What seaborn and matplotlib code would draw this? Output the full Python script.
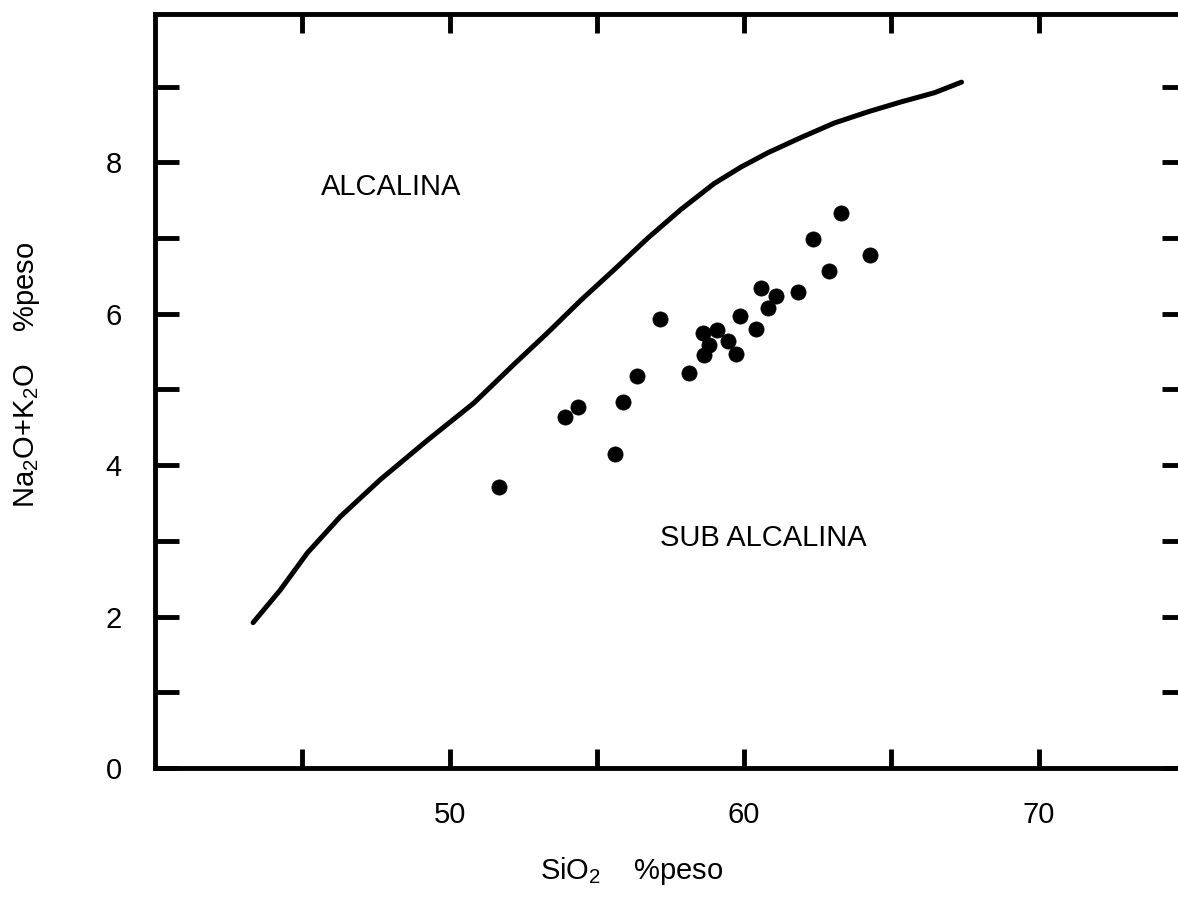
import numpy as np
import pandas as pd
import seaborn as sns
import matplotlib.pyplot as plt

# boundary alkaline / sub-alkaline
curve_sio2 = [43.33, 44.25, 45.17, 46.29, 47.65, 49.25, 50.82, 52.18, 53.33, 54.46,
              55.58, 56.73, 57.86, 58.98, 59.90, 60.82, 61.94, 63.06, 64.22, 65.34,
              66.46, 67.38]
curve_alk = [1.92, 2.35, 2.84, 3.32, 3.81, 4.33, 4.82, 5.33, 5.75, 6.18,
             6.58, 7.00, 7.38, 7.72, 7.94, 8.13, 8.33, 8.52, 8.67, 8.80,
             8.92, 9.06]

# samples
sio2 = [63.30, 62.35, 64.26, 62.87, 60.56, 61.07, 61.82, 60.82, 57.14, 59.86,
        60.41, 58.61, 59.08, 58.81, 59.46, 58.64, 59.73, 58.13, 56.36, 55.88,
        54.35, 53.91, 55.61, 51.67]
alk = [7.33, 6.99, 6.77, 6.57, 6.34, 6.24, 6.29, 6.08, 5.93, 5.97,
       5.80, 5.74, 5.79, 5.59, 5.64, 5.46, 5.47, 5.22, 5.18, 4.84,
       4.77, 4.64, 4.15, 3.71]

x_ticks = [45, 50, 55, 60, 65, 70]
x_labels = ["", "50", "", "60", "", "70"]
y_ticks = list(range(0, 10))
y_labels = [str(v) if v % 2 == 0 else "" for v in y_ticks]

sns.set_style("ticks", {"axes.edgecolor": "black", "text.color": "black",
                        "axes.labelcolor": "black", "xtick.color": "black",
                        "ytick.color": "black"})
plt.rcParams['font.family'] = ['Liberation Sans', 'DejaVu Sans']
plt.rcParams['mathtext.fontset'] = 'custom'
plt.rcParams['mathtext.rm'] = 'Liberation Sans'

fig = plt.figure(figsize=(11.78, 8.98), dpi=100)
ax = fig.add_axes([155 / 1178, 130 / 898, 1031 / 1178, 754 / 898])

curve = pd.DataFrame({"x": curve_sio2, "y": curve_alk})
pts = pd.DataFrame({"x": sio2, "y": alk})
sns.lineplot(data=curve, x="x", y="y", sort=False, color="black", lw=3.6, ax=ax)
ax.lines[0].set_solid_joinstyle("round")
ax.lines[0].set_solid_capstyle("round")
sns.scatterplot(data=pts, x="x", y="y", color="black", s=120, edgecolor="black",
                linewidth=0.5, ax=ax)

ax.set_xlim(40, 75)
ax.set_ylim(0, 9.96)

ax.set_xticks(x_ticks)
ax.set_xticklabels(x_labels)
ax.set_yticks(y_ticks)
ax.set_yticklabels(y_labels)
ax.tick_params(axis="x", direction="in", length=14, width=3.5, top=True,
               labelsize=21, pad=24, colors="black")
ax.tick_params(axis="y", direction="in", length=17, width=3.5, right=True,
               labelsize=21, pad=24, colors="black")
for sp in ax.spines.values():
    sp.set_linewidth(3.5)
    sp.set_color("black")
    sp.set_visible(True)

ax.set_xlabel("SiO$_2$    %peso", fontsize=21)
ax.set_ylabel("Na$_2$O+K$_2$O    %peso", fontsize=21)
ax.xaxis.set_label_coords((632 - 155) / 1031, -(855 - 768) / 754)
ax.yaxis.set_label_coords(-(155 - 42) / 1031, (768 - 375) / 754)

ax.text(48.0, 7.68, "ALCALINA", fontsize=21, ha="center", va="center")
ax.text(60.65, 3.04, "SUB ALCALINA", fontsize=21, ha="center", va="center")

fig.savefig("out.png", dpi=100)
